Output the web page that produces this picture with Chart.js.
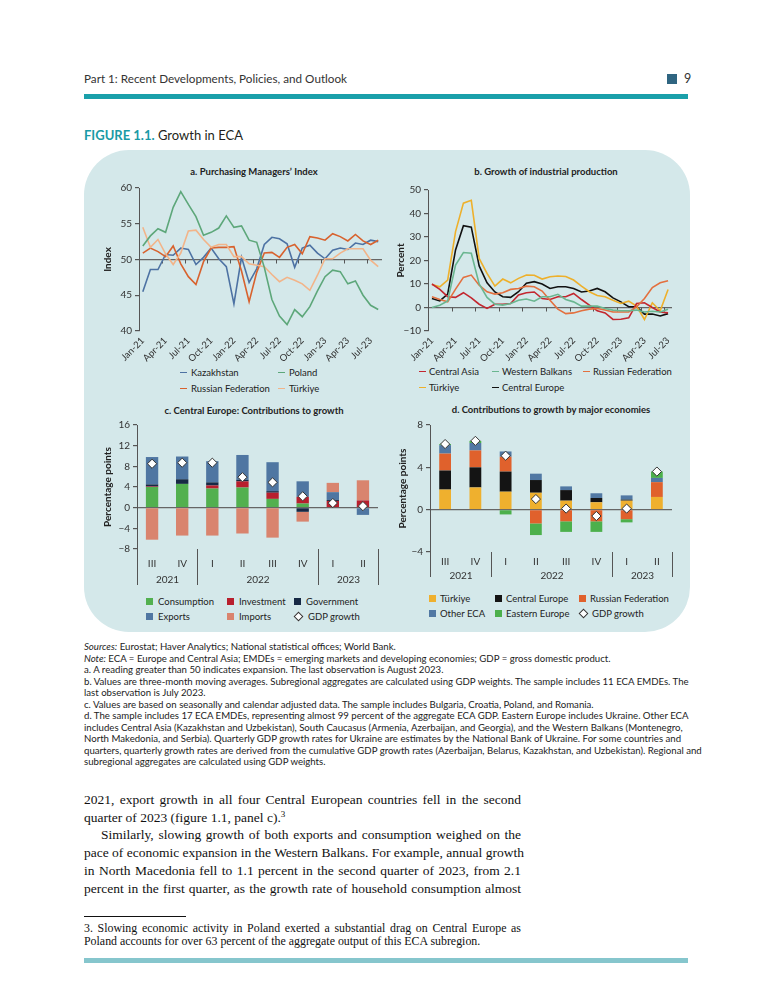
<!DOCTYPE html>
<html>
<head>
<meta charset="utf-8">
<script src="https://cdn.jsdelivr.net/npm/chart.js@4.4.0/dist/chart.umd.min.js"></script>
<style>
  body { margin: 0; background: #fff; font-family: Lato, "Open Sans", sans-serif; color: #231f20; }
  #page { position: relative; width: 768px; height: 1008px; overflow: hidden; }
  .abs { position: absolute; }
  .ptitle { position: absolute; font-size: 9.5px; font-weight: bold; color: #222; text-align: center; white-space: nowrap; line-height: 12px; }
  .lg { position: absolute; font-size: 9.5px; color: #222; white-space: nowrap; line-height: 12px; }
  .ln { display: inline-block; width: 7px; height: 1.6px; vertical-align: middle; margin-right: 4px; position: relative; top: -1px; }
  .bx { display: inline-block; width: 7px; height: 7px; vertical-align: middle; margin-right: 5px; position: relative; top: -1px; }
  .dm { display: inline-block; width: 5px; height: 5px; border: 1px solid #333; background: #fff; transform: rotate(45deg); vertical-align: middle; margin: 0 6px 0 1px; position: relative; top: -1px; }
  canvas { position: absolute; }
  #notes { position: absolute; left: 84px; top: 641px; font-size: 9.65px; line-height: 11.5px; color: #222; }
  #notes div { white-space: nowrap; }
  #body { position: absolute; left: 84px; top: 791px; width: 437px; font-family: "Liberation Serif", "DejaVu Serif", serif; font-size: 13.5px; line-height: 17.7px; color: #111; }
  #body div { white-space: nowrap; }
  #body .j { text-align: justify; text-align-last: justify; }
  #body sup { font-size: 9px; line-height: 0; }
  #foot { position: absolute; left: 84px; top: 922px; width: 437px; font-family: "Liberation Serif", "DejaVu Serif", serif; font-size: 11.9px; line-height: 12.5px; color: #111; }
  #foot div { white-space: nowrap; }
  #foot .j { text-align: justify; text-align-last: justify; }
</style>
</head>
<body>
<div id="page">
  <div class="abs" style="left:84px;top:71px;font-size:11.7px;color:#333;">Part 1: Recent Developments, Policies, and Outlook</div>
  <div class="abs" style="left:667px;top:74px;width:10px;height:10px;background:#2f6581;"></div>
  <div class="abs" style="left:684px;top:71px;font-size:12.5px;color:#333;">9</div>
  <div class="abs" style="left:84px;top:94px;width:604px;height:5px;background:#1aa0aa;"></div>
  <div class="abs" style="left:84px;top:127px;font-size:13px;"><b style="color:#1a9aa6;">FIGURE 1.1.</b> Growth in ECA</div>

  <div class="abs" style="left:84px;top:150px;width:606px;height:482px;background:#d4e8ea;border-radius:45px;"></div>

  <div class="ptitle" style="left:154px;width:200px;top:166px;">a. Purchasing Managers’ Index</div>
  <div class="ptitle" style="left:446px;width:200px;top:166px;">b. Growth of industrial production</div>
  <div class="ptitle" style="left:134px;width:240px;top:405px;">c. Central Europe: Contributions to growth</div>
  <div class="ptitle" style="left:431px;width:240px;top:404px;">d. Contributions to growth by major economies</div>

  <canvas id="chartA" width="300" height="188" style="left:90px;top:178px;"></canvas>
  <canvas id="chartB" width="300" height="186" style="left:390px;top:180px;"></canvas>
  <canvas id="chartC" width="300" height="176" style="left:90px;top:415px;"></canvas>
  <canvas id="chartD" width="300" height="170" style="left:390px;top:415px;"></canvas>

  <div class="lg" style="left:180px;top:367px;"><i class="ln" style="background:#4d72a3"></i>Kazakhstan</div>
  <div class="lg" style="left:278px;top:367px;"><i class="ln" style="background:#5da77a"></i>Poland</div>
  <div class="lg" style="left:180px;top:383px;"><i class="ln" style="background:#d8622e"></i>Russian Federation</div>
  <div class="lg" style="left:278px;top:383px;"><i class="ln" style="background:#f2b489"></i>Türkiye</div>

  <div class="lg" style="left:419px;top:366px;"><i class="ln" style="background:#c3272f;margin-right:3px"></i>Central Asia</div>
  <div class="lg" style="left:492px;top:366px;"><i class="ln" style="background:#6ab690;margin-right:3px"></i>Western Balkans</div>
  <div class="lg" style="left:583px;top:366px;"><i class="ln" style="background:#e3703f;margin-right:3px"></i>Russian Federation</div>
  <div class="lg" style="left:419px;top:382px;"><i class="ln" style="background:#eeb02b;margin-right:3px"></i>Türkiye</div>
  <div class="lg" style="left:492px;top:382px;"><i class="ln" style="background:#111;margin-right:3px"></i>Central Europe</div>

  <div class="lg" style="left:146px;top:596px;"><i class="bx" style="background:#52b04f"></i>Consumption</div>
  <div class="lg" style="left:227px;top:596px;"><i class="bx" style="background:#b81f2d"></i>Investment</div>
  <div class="lg" style="left:294px;top:596px;"><i class="bx" style="background:#172945"></i>Government</div>
  <div class="lg" style="left:146px;top:611px;"><i class="bx" style="background:#4f76a2"></i>Exports</div>
  <div class="lg" style="left:227px;top:611px;"><i class="bx" style="background:#d9846e"></i>Imports</div>
  <div class="lg" style="left:294px;top:611px;"><i class="dm"></i>GDP growth</div>

  <div class="lg" style="left:429px;top:593px;"><i class="bx" style="background:#efb02e;margin-right:4px"></i>Türkiye</div>
  <div class="lg" style="left:495px;top:593px;"><i class="bx" style="background:#141414;margin-right:4px"></i>Central Europe</div>
  <div class="lg" style="left:579px;top:593px;"><i class="bx" style="background:#e0612c;margin-right:4px"></i>Russian Federation</div>
  <div class="lg" style="left:429px;top:608px;"><i class="bx" style="background:#5178a3;margin-right:4px"></i>Other ECA</div>
  <div class="lg" style="left:495px;top:608px;"><i class="bx" style="background:#4cb04c;margin-right:4px"></i>Eastern Europe</div>
  <div class="lg" style="left:579px;top:608px;"><i class="dm" style="margin-right:5px"></i>GDP growth</div>

  <div id="notes">
    <div><i>Sources:</i> Eurostat; Haver Analytics; National statistical offices; World Bank.</div>
    <div><i>Note:</i> ECA = Europe and Central Asia; EMDEs = emerging markets and developing economies; GDP = gross domestic product.</div>
    <div>a. A reading greater than 50 indicates expansion. The last observation is August 2023.</div>
    <div>b. Values are three-month moving averages. Subregional aggregates are calculated using GDP weights. The sample includes 11 ECA EMDEs. The</div>
    <div>last observation is July 2023.</div>
    <div>c. Values are based on seasonally and calendar adjusted data. The sample includes Bulgaria, Croatia, Poland, and Romania.</div>
    <div>d. The sample includes 17 ECA EMDEs, representing almost 99 percent of the aggregate ECA GDP. Eastern Europe includes Ukraine. Other ECA</div>
    <div>includes Central Asia (Kazakhstan and Uzbekistan), South Caucasus (Armenia, Azerbaijan, and Georgia), and the Western Balkans (Montenegro,</div>
    <div>North Makedonia, and Serbia). Quarterly GDP growth rates for Ukraine are estimates by the National Bank of Ukraine. For some countries and</div>
    <div>quarters, quarterly growth rates are derived from the cumulative GDP growth rates (Azerbaijan, Belarus, Kazakhstan, and Uzbekistan). Regional and</div>
    <div>subregional aggregates are calculated using GDP weights.</div>
  </div>

  <div id="body">
    <div class="j">2021, export growth in all four Central European countries fell in the second</div>
    <div>quarter of 2023 (figure 1.1, panel c).<sup>3</sup></div>
    <div class="j" style="padding-left:17px;">Similarly, slowing growth of both exports and consumption weighed on the</div>
    <div class="j">pace of economic expansion in the Western Balkans. For example, annual growth</div>
    <div class="j">in North Macedonia fell to 1.1 percent in the second quarter of 2023, from 2.1</div>
    <div class="j">percent in the first quarter, as the growth rate of household consumption almost</div>
  </div>

  <div class="abs" style="left:84px;top:916px;width:102px;height:1px;background:#111;"></div>
  <div id="foot">
    <div class="j">3. Slowing economic activity in Poland exerted a substantial drag on Central Europe as</div>
    <div>Poland accounts for over 63 percent of the aggregate output of this ECA subregion.</div>
  </div>

  <div class="abs" style="left:84px;top:958px;width:604px;height:5px;background:#86c6cd;"></div>
</div>

<script>
// ---- data: panel a, PMI (index) ----
const pmiMonths = ['Jan-21','Feb-21','Mar-21','Apr-21','May-21','Jun-21','Jul-21','Aug-21','Sep-21','Oct-21','Nov-21','Dec-21',
  'Jan-22','Feb-22','Mar-22','Apr-22','May-22','Jun-22','Jul-22','Aug-22','Sep-22','Oct-22','Nov-22','Dec-22',
  'Jan-23','Feb-23','Mar-23','Apr-23','May-23','Jun-23','Jul-23','Aug-23'];
const pmiKazakhstan = [45.5,48.6,48.6,50.7,50.6,51.6,51.4,49.3,50.3,51.6,50.1,49.0,43.8,50.3,46.8,48.7,52.1,53.1,52.9,52.2,48.9,51.6,52.0,50.9,50.1,51.3,51.6,51.4,52.3,52.1,52.7,52.5];
const pmiPoland = [51.9,53.3,54.3,53.8,57.3,59.5,57.7,56.0,53.4,53.8,54.4,56.1,54.5,54.7,52.7,52.4,48.9,44.4,42.1,40.9,43.0,42.0,43.4,45.6,47.6,48.5,48.3,46.6,47.0,45.0,43.6,43.0];
const pmiRussia = [50.9,51.6,51.1,50.4,51.9,49.4,47.6,46.5,49.7,51.6,51.7,51.7,51.8,48.4,44.1,48.2,50.9,51.0,50.3,51.7,52.1,50.8,53.2,53.0,52.7,53.6,53.2,52.6,53.5,52.6,52.1,52.7];
const pmiTurkiye = [54.5,51.7,52.8,50.8,49.3,50.9,54.0,54.1,52.8,51.7,52.1,52.1,50.4,50.4,49.4,49.2,49.0,47.9,46.9,47.5,47.1,46.6,45.7,47.8,50.1,50.1,50.9,51.5,51.5,51.5,49.9,49.0];

// ---- data: panel b, industrial production (percent) ----
const ipMonths = ['Jan-21','Feb-21','Mar-21','Apr-21','May-21','Jun-21','Jul-21','Aug-21','Sep-21','Oct-21','Nov-21','Dec-21',
  'Jan-22','Feb-22','Mar-22','Apr-22','May-22','Jun-22','Jul-22','Aug-22','Sep-22','Oct-22','Nov-22','Dec-22',
  'Jan-23','Feb-23','Mar-23','Apr-23','May-23','Jun-23','Jul-23'];
const ipCentralAsia = [10.0,7.7,4.6,4.3,6.3,4.1,1.4,-0.4,1.4,1.4,1.7,5.3,6.3,6.6,3.8,3.4,4.6,4.6,6.0,3.4,1.0,-1.4,-2.3,-5.1,-5.0,-4.4,1.7,2.0,0.0,-1.9,-2.3];
const ipWesternBalkans = [0.0,1.0,2.8,18.1,23.4,23.1,10.0,4.3,1.4,1.0,1.7,3.1,3.6,2.7,4.6,4.6,5.6,3.4,2.4,0.6,0.6,0.6,-0.4,-1.1,-1.4,-1.4,-1.1,-1.9,-1.6,-1.9,-0.7];
const ipRussia = [4.6,3.4,2.4,7.8,12.8,13.8,9.5,6.7,5.7,6.3,7.7,8.1,9.1,8.8,7.0,3.1,-0.7,-2.6,-2.3,-1.4,-0.7,-0.4,-1.1,-1.9,-1.9,-1.9,0.3,3.8,8.5,10.5,11.4];
const ipTurkiye = [9.8,8.8,11.7,32.3,44.4,45.6,20.9,14.5,9.1,12.1,10.5,12.4,13.8,13.7,12.1,13.1,13.4,13.2,11.7,9.1,6.7,5.1,4.6,3.1,1.7,2.7,0.6,-5.1,2.0,-1.4,7.7];
const ipCentralEurope = [3.8,2.8,5.7,24.5,34.8,34.2,17.7,10.5,6.6,4.6,4.3,6.7,10.3,11.0,10.0,8.1,8.8,8.8,8.1,6.6,7.0,8.1,6.7,4.1,2.4,0.3,0.3,-2.8,-2.8,-3.6,-2.6];

// ---- data: quarters shared by panels c and d ----
const quarterLabels = ['III','IV','I','II','III','IV','I','II'];
const yearLabels = ['2021','2022','2023'];
const yearSpans = [2, 4, 2];

// ---- data: panel c, Central Europe contributions (percentage points) ----
const ceConsumption = [4.0, 4.6, 3.7, 3.9, 1.7, 0.8, 0.0, 0.0];
const ceInvestment = [0.1, 0.0, 0.6, 1.2, 1.2, 1.3, 1.3, 1.4];
const ceGovernment = [0.4, 0.9, 0.6, 0.3, 0.3, -0.8, 0.2, 0.0];
const ceExports = [5.3, 4.4, 4.1, 4.8, 5.6, 3.0, 1.5, -1.4];
const ceImports = [-6.2, -5.4, -5.4, -5.0, -5.8, -1.9, 1.8, 3.9];
const ceGdp = [8.5, 8.7, 8.7, 5.9, 4.9, 2.2, 0.9, 0.3];

// ---- data: panel d, contributions by major economies (percentage points) ----
const ecaTurkiye = [1.9, 2.1, 1.7, 1.6, 0.85, 0.7, 0.85, 1.2];
const ecaCentralEurope = [1.8, 1.9, 1.9, 1.2, 1.0, 0.4, 0.1, 0.0];
const ecaRussia = [1.6, 1.6, 1.4, -1.3, -1.1, -1.1, -0.9, 1.4];
const ecaOther = [0.8, 0.7, 0.5, 0.6, 0.35, 0.45, 0.4, 0.4];
const ecaEastern = [0.1, 0.2, -0.45, -1.1, -1.0, -1.0, -0.3, 0.6];
const ecaGdp = [6.2, 6.5, 5.1, 1.0, 0.1, -0.6, 0.1, 3.6];

Chart.defaults.font.family = 'Lato, "Open Sans", sans-serif';
Chart.defaults.color = '#333';
Chart.defaults.animation = false;

const AXIS = '#555';

// small tick marks on the reference line (50 or 0), one per quarter boundary
const midTicks = {
  id: 'midTicks',
  beforeDatasetsDraw(chart, args, opts) {
    const xs = chart.scales.x, ys = chart.scales.y, ctx = chart.ctx;
    const yy = ys.getPixelForValue(opts.at);
    const half = (xs.getPixelForValue(1) - xs.getPixelForValue(0)) / 2;
    ctx.save();
    ctx.strokeStyle = AXIS;
    ctx.lineWidth = 1;
    for (let i = opts.every; i < chart.data.labels.length; i += opts.every) {
      const px = Math.round(xs.getPixelForValue(i) - half) + 0.5;
      ctx.beginPath();
      ctx.moveTo(px, yy);
      ctx.lineTo(px, yy + opts.len);
      ctx.stroke();
    }
    ctx.restore();
  }
};

// year labels and separators under the quarter labels
const yearGroups = {
  id: 'yearGroups',
  afterDraw(chart, args, opts) {
    const xs = chart.scales.x, area = chart.chartArea, ctx = chart.ctx;
    const half = (xs.getPixelForValue(1) - xs.getPixelForValue(0)) / 2;
    const edge = i => Math.round(xs.getPixelForValue(i) - half) + 0.5;
    ctx.save();
    ctx.strokeStyle = AXIS;
    ctx.lineWidth = 1;
    ctx.fillStyle = '#333';
    ctx.font = '10px Lato, "Open Sans", sans-serif';
    ctx.textAlign = 'center';
    ctx.textBaseline = 'middle';
    let start = 0;
    opts.spans.forEach((n, k) => {
      const x0 = edge(start), x1 = edge(start + n);
      ctx.beginPath();
      ctx.moveTo(x0, area.bottom);
      ctx.lineTo(x0, area.bottom + opts.len);
      ctx.stroke();
      ctx.fillText(opts.labels[k], (x0 + x1) / 2, area.bottom + opts.textY);
      start += n;
    });
    const xe = edge(start);
    ctx.beginPath();
    ctx.moveTo(xe, area.bottom);
    ctx.lineTo(xe, area.bottom + opts.len);
    ctx.stroke();
    ctx.restore();
  }
};

function valueAxis(min, max, step, ref, title, width, titlePad, stacked) {
  return {
    min: min, max: max, stacked: !!stacked,
    ticks: {
      stepSize: step, color: '#333', font: { size: 10 }, padding: 3,
      callback: v => String(v).replace('-', '\u2212')
    },
    grid: {
      color: c => (c.tick && c.tick.value === ref) ? '#666' : 'rgba(0,0,0,0)',
      lineWidth: 1.2, tickColor: AXIS, tickLength: 4
    },
    border: { display: true, color: AXIS, width: 1 },
    title: { display: true, text: title, color: '#222', font: { size: 10, weight: 'bold' }, padding: { top: titlePad, bottom: 0 } },
    afterFit: s => { s.width = width; }
  };
}

function monthAxis(height) {
  return {
    type: 'category', offset: true,
    grid: { display: false, drawTicks: false },
    border: { display: false },
    ticks: {
      autoSkip: false, maxRotation: 45, minRotation: 45, padding: 4,
      color: '#333', font: { size: 9.5 },
      callback: function (v, i) { return i % 3 === 0 ? this.getLabelForValue(v) : null; }
    },
    afterFit: s => { s.height = height; }
  };
}

function quarterAxis(height, pad) {
  return {
    type: 'category', stacked: true,
    grid: { display: false, drawTicks: false },
    border: { display: false },
    ticks: { color: '#333', font: { size: 10 }, padding: pad },
    afterFit: s => { s.height = height; }
  };
}

function lineSet(label, data, color) {
  return { label: label, data: data, borderColor: color, borderWidth: 1.6, pointRadius: 0, tension: 0, fill: false };
}

function barSet(label, data, color, pct) {
  return { type: 'bar', label: label, data: data, backgroundColor: color, borderWidth: 0,
           barPercentage: pct, categoryPercentage: 1, order: 2 };
}

function gdpSet(data) {
  return { type: 'line', label: 'GDP growth', data: data, showLine: false, stack: 'gdp', order: 0,
           pointStyle: 'rectRot', pointRadius: 4.6, pointBackgroundColor: '#fff',
           pointBorderColor: '#333', pointBorderWidth: 1 };
}

const quiet = { legend: { display: false }, tooltip: { enabled: false } };

// panel a
new Chart(document.getElementById('chartA'), {
  type: 'line',
  data: {
    labels: pmiMonths,
    datasets: [
      lineSet('Poland', pmiPoland, '#5da77a'),
      lineSet('Türkiye', pmiTurkiye, '#f2b489'),
      lineSet('Russian Federation', pmiRussia, '#d8622e'),
      lineSet('Kazakhstan', pmiKazakhstan, '#4d72a3')
    ]
  },
  options: {
    responsive: false,
    layout: { padding: { top: 10, right: 8, bottom: 0, left: 0 } },
    scales: { x: monthAxis(35), y: valueAxis(40, 60, 5, 50, 'Index', 49, 12) },
    plugins: Object.assign({ midTicks: { at: 50, every: 3, len: 4 } }, quiet)
  },
  plugins: [midTicks]
});

// panel b
new Chart(document.getElementById('chartB'), {
  type: 'line',
  data: {
    labels: ipMonths,
    datasets: [
      lineSet('Western Balkans', ipWesternBalkans, '#6ab690'),
      lineSet('Russian Federation', ipRussia, '#e3703f'),
      lineSet('Central Asia', ipCentralAsia, '#c3272f'),
      lineSet('Türkiye', ipTurkiye, '#eeb02b'),
      lineSet('Central Europe', ipCentralEurope, '#111111')
    ]
  },
  options: {
    responsive: false,
    layout: { padding: { top: 10, right: 18, bottom: 0, left: 0 } },
    scales: { x: monthAxis(35), y: valueAxis(-10, 50, 10, 0, 'Percent', 38, 5) },
    plugins: Object.assign({ midTicks: { at: 0, every: 3, len: 4 } }, quiet)
  },
  plugins: [midTicks]
});

// panel c
new Chart(document.getElementById('chartC'), {
  type: 'bar',
  data: {
    labels: quarterLabels,
    datasets: [
      gdpSet(ceGdp),
      barSet('Consumption', ceConsumption, '#52b04f', 0.41),
      barSet('Investment', ceInvestment, '#b81f2d', 0.41),
      barSet('Government', ceGovernment, '#172945', 0.41),
      barSet('Exports', ceExports, '#4f76a2', 0.41),
      barSet('Imports', ceImports, '#d9846e', 0.41)
    ]
  },
  options: {
    responsive: false,
    layout: { padding: { top: 10, right: 12, bottom: 0, left: 0 } },
    scales: { x: quarterAxis(42, 9), y: valueAxis(-8, 16, 4, 0, 'Percentage points', 47, 12, true) },
    plugins: Object.assign({ yearGroups: { spans: yearSpans, labels: yearLabels, len: 36, textY: 31 } }, quiet)
  },
  plugins: [yearGroups]
});

// panel d
new Chart(document.getElementById('chartD'), {
  type: 'bar',
  data: {
    labels: quarterLabels,
    datasets: [
      gdpSet(ecaGdp),
      barSet('Türkiye', ecaTurkiye, '#efb02e', 0.39),
      barSet('Central Europe', ecaCentralEurope, '#141414', 0.39),
      barSet('Russian Federation', ecaRussia, '#e0612c', 0.39),
      barSet('Other ECA', ecaOther, '#5178a3', 0.39),
      barSet('Eastern Europe', ecaEastern, '#4cb04c', 0.39)
    ]
  },
  options: {
    responsive: false,
    layout: { padding: { top: 10, right: 18, bottom: 0, left: 0 } },
    scales: { x: quarterAxis(33, 4), y: valueAxis(-4, 8, 4, 0, 'Percentage points', 40, 7, true) },
    plugins: Object.assign({ yearGroups: { spans: yearSpans, labels: yearLabels, len: 25, textY: 24 } }, quiet)
  },
  plugins: [yearGroups]
});
</script>
</body>
</html>
